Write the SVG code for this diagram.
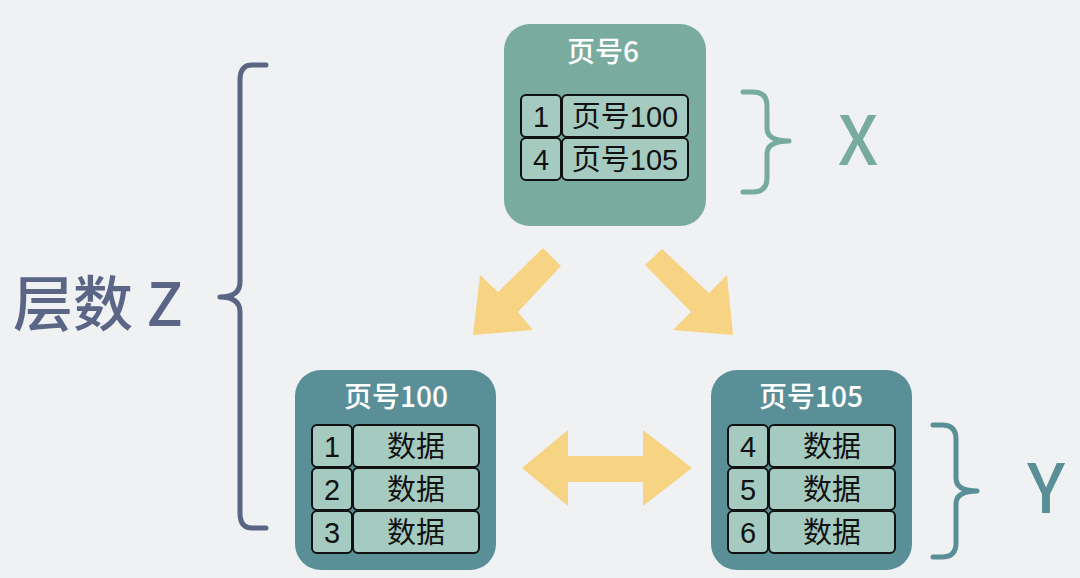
<svg xmlns="http://www.w3.org/2000/svg" width="1080" height="578" viewBox="0 0 1080 578">
<style>
.bg{fill:#eff1f3}
.topbox{fill:#79ab9f}
.botbox{fill:#5a8f98}
.cell{fill:#a5cbc1;stroke:#111;stroke-width:2}
.t{font-family:"Liberation Sans","Noto Sans CJK SC",sans-serif;text-anchor:middle}
.title{fill:#ffffff;font-size:28px;font-weight:500;font-family:"Noto Sans CJK SC",sans-serif}
.ct{fill:#111;font-size:29px}
.arrow{fill:#f7d483}
.brace{fill:none;stroke-width:5;stroke-linecap:round;stroke-linejoin:round}
.lbl{font-family:"Noto Sans CJK SC",sans-serif;font-weight:500}
</style>
<rect class="bg" x="0" y="0" width="1080" height="578"/>

<g id="node-page6">
<rect class="topbox" x="504" y="24" width="202" height="202" rx="26"/>
<text class="t title" x="603" y="62">页号6</text>
<rect class="cell" x="521" y="95" width="40" height="42" rx="5"/>
<rect class="cell" x="562" y="95" width="126" height="42" rx="5"/>
<rect class="cell" x="521" y="138" width="40" height="42" rx="5"/>
<rect class="cell" x="562" y="138" width="126" height="42" rx="5"/>
<text class="t ct" x="541" y="127">1</text>
<text class="t ct" x="625" y="127">页号100</text>
<text class="t ct" x="541" y="170">4</text>
<text class="t ct" x="625" y="170">页号105</text>
</g>

<g id="node-page100">
<rect class="botbox" x="295" y="370" width="201" height="200" rx="26"/>
<text class="t title" x="396" y="407">页号100</text>
<rect class="cell" x="312" y="425" width="40" height="42" rx="5"/>
<rect class="cell" x="353" y="425" width="126" height="42" rx="5"/>
<rect class="cell" x="312" y="468" width="40" height="42" rx="5"/>
<rect class="cell" x="353" y="468" width="126" height="42" rx="5"/>
<rect class="cell" x="312" y="511" width="40" height="42" rx="5"/>
<rect class="cell" x="353" y="511" width="126" height="42" rx="5"/>
<text class="t ct" x="332" y="457">1</text>
<text class="t ct" x="416" y="457">数据</text>
<text class="t ct" x="332" y="500">2</text>
<text class="t ct" x="416" y="500">数据</text>
<text class="t ct" x="332" y="543">3</text>
<text class="t ct" x="416" y="543">数据</text>
</g>

<g id="node-page105">
<rect class="botbox" x="711" y="370" width="201" height="200" rx="26"/>
<text class="t title" x="811" y="407">页号105</text>
<rect class="cell" x="728" y="425" width="40" height="42" rx="5"/>
<rect class="cell" x="769" y="425" width="126" height="42" rx="5"/>
<rect class="cell" x="728" y="468" width="40" height="42" rx="5"/>
<rect class="cell" x="769" y="468" width="126" height="42" rx="5"/>
<rect class="cell" x="728" y="511" width="40" height="42" rx="5"/>
<rect class="cell" x="769" y="511" width="126" height="42" rx="5"/>
<text class="t ct" x="748" y="457">4</text>
<text class="t ct" x="832" y="457">数据</text>
<text class="t ct" x="748" y="500">5</text>
<text class="t ct" x="832" y="500">数据</text>
<text class="t ct" x="748" y="543">6</text>
<text class="t ct" x="832" y="543">数据</text>
</g>

<g id="connectors">
<polygon class="arrow" points="543,248 561,266 518,312 533,330 473,335 480,275 498,292"/>
<polygon class="arrow" points="662,249 709,293 727,275 733,335 673,330 691,312 645,265"/>
<polygon class="arrow" points="522,468 568,430 568,456 643,456 643,430 692,468 643,506 643,482 568,482 568,506"/>
</g>

<g id="brace-z">
<path class="brace" stroke="#5a6483" d="M266,65 L252,65 Q240,65 240,80 L240,282 Q240,297 220,297 Q240,297 240,312 L240,513 Q240,528 252,528 L266,528"/>
<text class="lbl" x="13" y="326" font-size="60" fill="#5b6585">层数 Z</text>
</g>

<g id="brace-x">
<path class="brace" stroke="#78ab9f" d="M743,92 L753,92 Q767,92 767,106 L767,128 Q767,141 789,141 Q767,141 767,154 L767,178 Q767,192 753,192 L743,192"/>
<text class="lbl" x="858" y="165" font-size="68" fill="#78ab9f" text-anchor="middle">X</text>
</g>

<g id="brace-y">
<path class="brace" stroke="#5a8f98" d="M933,425 L942,425 Q956,425 956,439 L956,478 Q956,491 977,491 Q956,491 956,504 L956,543 Q956,557 942,557 L933,557"/>
<text class="lbl" x="1046" y="513" font-size="68" fill="#5a8f98" text-anchor="middle">Y</text>
</g>
</svg>
